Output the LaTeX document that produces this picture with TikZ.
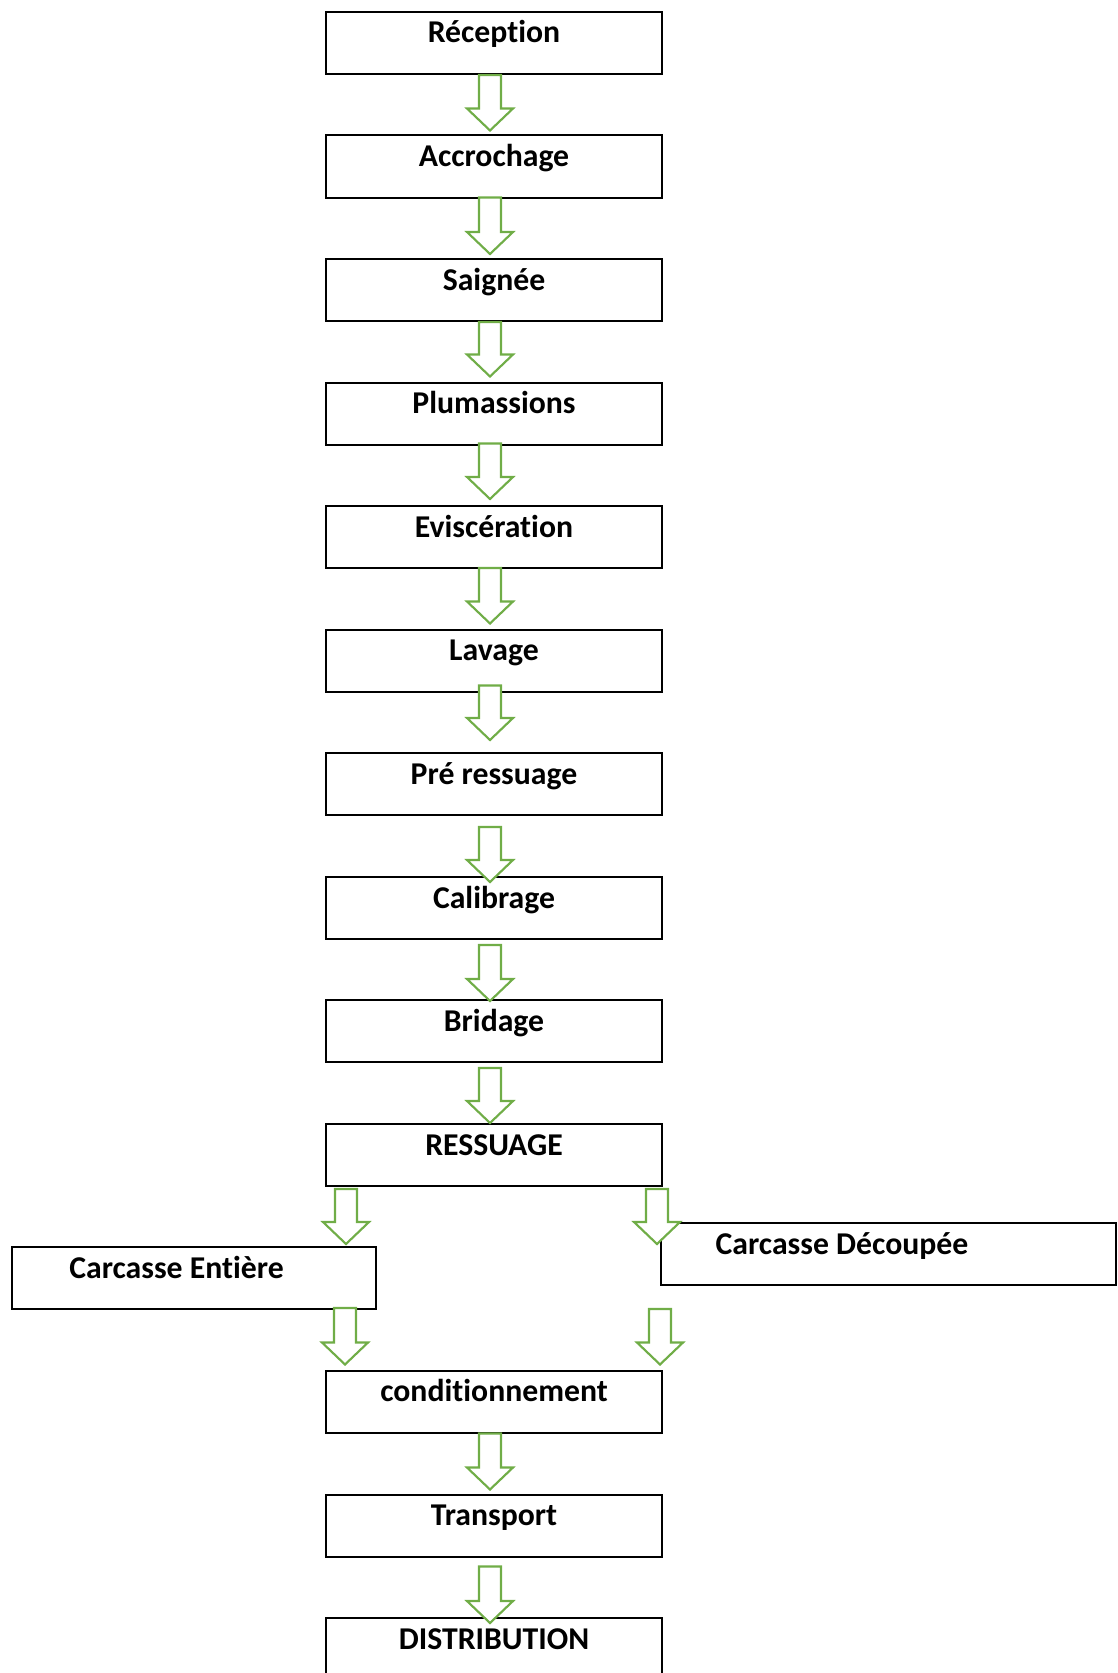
\documentclass[tikz,border=0pt]{standalone}
\usepackage{fontspec}
\setmainfont{Carlito}[Ligatures=NoCommon]
\usetikzlibrary{calc}
\definecolor{arrgreen}{HTML}{70AD47}
\tikzset{
  stepbox/.style={draw=black, line width=1.5pt, rectangle, anchor=north west,
    inner xsep=0pt, inner ysep=0pt, minimum width=252pt,
    text height=23.25pt, text depth=23.25pt,
    font=\fontsize{23.8pt}{27pt}\selectfont\bfseries},
  garrow/.style={draw=arrgreen, line width=1.6pt, line join=miter, fill=white}
}
\newcommand\blockarr[2]{%
  \draw[garrow] let \p1=(#1), \p2=(#2) in
    (\x2-8.25pt,\y1) -- (\x2-8.25pt,\y2+16.5pt) -- (\x2-17.25pt,\y2+16.5pt) --
    (\x2,\y2) -- (\x2+17.25pt,\y2+16.5pt) -- (\x2+8.25pt,\y2+16.5pt) --
    (\x2+8.25pt,\y1) -- cycle;}
\begin{document}
\begin{tikzpicture}[x=0.75pt,y=-0.75pt]
\useasboundingbox (0,0) rectangle (1117,1673);
\node[stepbox] (r1) at (325,11) {Réception};
\node[stepbox] (r2) at (325,134.5) {Accrochage};
\node[stepbox] (r3) at (325,258) {Saignée};
\node[stepbox] (r4) at (325,381.5) {Plumassions};
\node[stepbox] (r5) at (325,505) {Eviscération};
\node[stepbox] (r6) at (325,628.5) {Lavage};
\node[stepbox] (r7) at (325,752) {Pré ressuage};
\node[stepbox] (r8) at (325,876) {Calibrage};
\node[stepbox] (r9) at (325,999) {Bridage};
\node[stepbox] (r10) at (325,1123) {RESSUAGE};
\node[stepbox, minimum width=273pt] (ce) at (11,1246) {\makebox[273pt][l]{\hspace*{43pt}Carcasse Entière}};
\node[stepbox, minimum width=341.25pt] (cd) at (660,1222) {\makebox[341.25pt][l]{\hspace*{41pt}Carcasse Découpée}};
\node[stepbox] (r11) at (325,1369.5) {conditionnement};
\node[stepbox] (r12) at (325,1493.5) {Transport};
\node[stepbox] (r13) at (325,1617) {DISTRIBUTION};
% arrows
\blockarr{$(r1.south)+(-4,0)$}{$(r2.north)+(-4,-4)$}
\blockarr{$(r2.south)+(-4,-1)$}{$(r3.north)+(-4,-4)$}
\blockarr{$(r3.south)+(-4,0)$}{$(r4.north)+(-4,-5)$}
\blockarr{$(r4.south)+(-4,-2)$}{$(r5.north)+(-4,-6)$}
\blockarr{$(r5.south)+(-4,-1)$}{$(r6.north)+(-4,-5)$}
\blockarr{$(r6.south)+(-4,-7)$}{$(r7.north)+(-4,-12)$}
\blockarr{$(r7.south)+(-4,11)$}{$(r8.north)+(-4,6)$}
\blockarr{$(r8.south)+(-4,5)$}{$(r9.north)+(-4,2)$}
\blockarr{$(r9.south)+(-4,5)$}{$(r10.north)+(-4,0)$}
\blockarr{$(r10.south west)+(21,2)$}{$(ce.north west)+(335,-2)$}
\blockarr{$(r10.south east)+(-4,2)$}{$(cd.north west)+(-3,22)$}
\blockarr{$(ce.south west)+(334,-2)$}{$(r11.north west)+(20,-5)$}
\blockarr{$(cd.south west)+(-2,23)$}{$(r11.north east)+(-3,-5)$}
\blockarr{$(r11.south)+(-4,0)$}{$(r12.north)+(-4,-4)$}
\blockarr{$(r12.south)+(-4,9)$}{$(r13.north)+(-4,6)$}
\end{tikzpicture}
\end{document}
